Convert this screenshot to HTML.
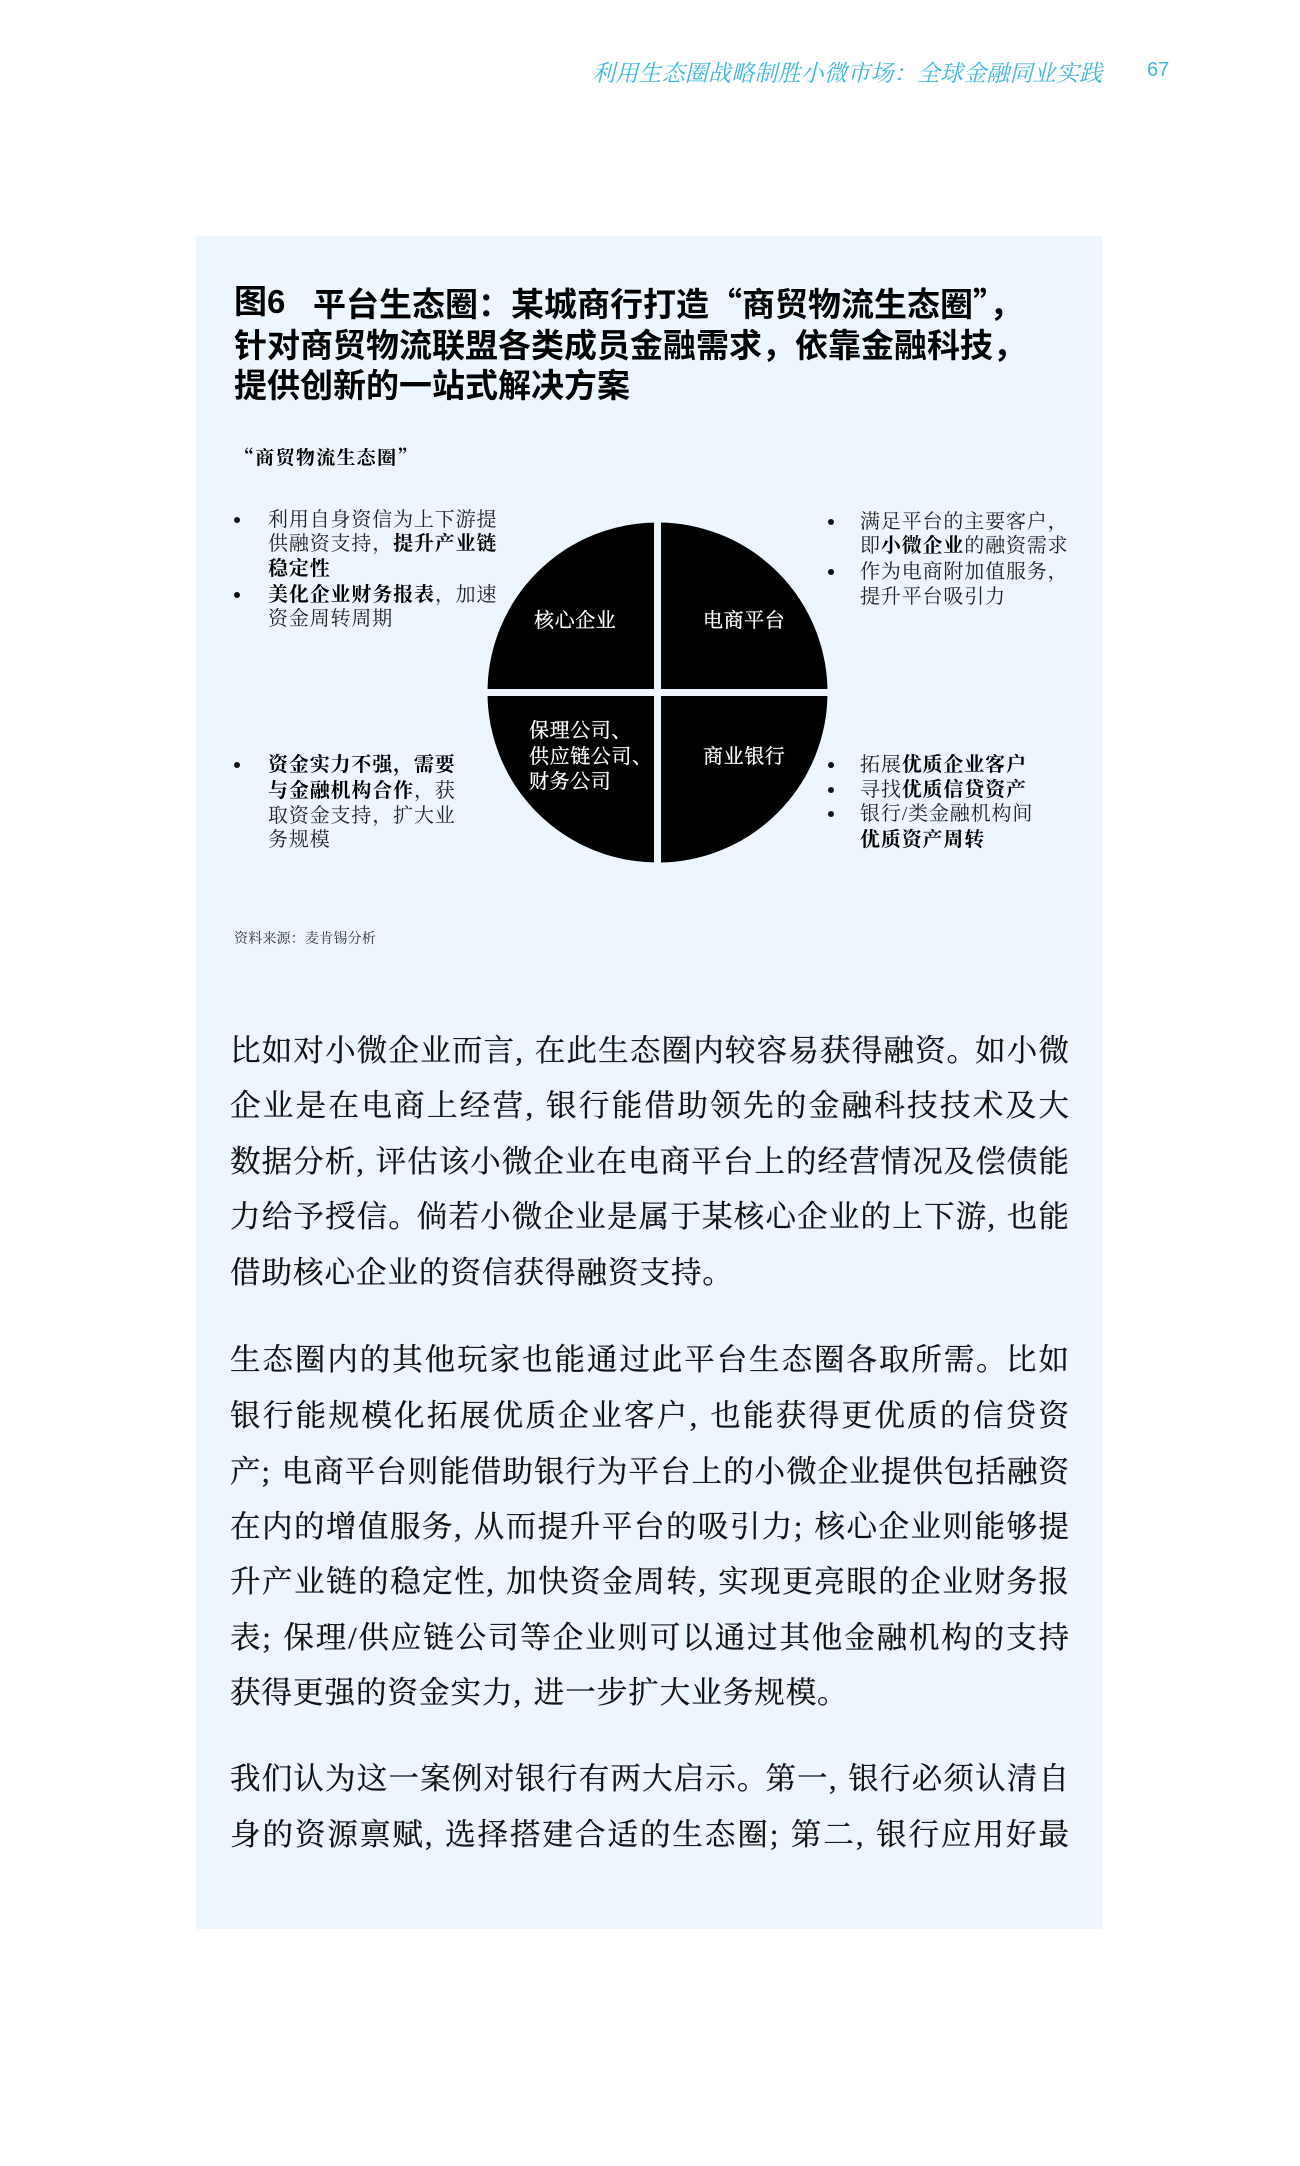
<!DOCTYPE html>
<html lang="zh-CN">
<head>
<meta charset="utf-8">
<title>平台生态圈</title>
<style>
html,body{margin:0;padding:0;background:#fff;}
#page{position:relative;width:1300px;height:2166px;overflow:hidden;background:#fff;font-family:"Liberation Serif","Noto Serif CJK SC",serif;color:#000;}
#page div{position:absolute;white-space:nowrap;}
#panel{left:196px;top:236px;width:906px;height:1693px;background:#edf5fd;}
.hd{font-family:"Noto Sans CJK SC","Liberation Sans",sans-serif;font-weight:700;font-size:33px;line-height:40px;height:40px;left:234px;color:#000;}
.j{text-align:justify;text-align-last:justify;}
.bl{left:230px;width:839px;height:44px;font-size:30.5px;line-height:44px;font-feature-settings:"palt";color:#111;word-spacing:3px;-webkit-text-stroke:.25px #111;}
.bl.last{letter-spacing:1px;text-align:left;text-align-last:left;width:auto;}
.s{font-size:20px;line-height:26px;height:26px;letter-spacing:.85px;color:#222;}
.s b{color:#000;font-weight:700;}
.lx{left:268px;}
.rx{left:860px;}
.dot{width:6px;height:6px;border-radius:50%;background:#111;}
.c{font-size:20px;line-height:26px;height:26px;letter-spacing:.6px;color:#fff;-webkit-text-stroke:.3px #fff;}
</style>
</head>
<body>
<div id="page">
  <div style="left:592px;top:56px;height:32px;font-family:'Noto Serif CJK SC',serif;font-size:23px;line-height:32px;font-style:italic;color:#3fb5e0;letter-spacing:.2px;">利用生态圈战略制胜小微市场&#xFF1A;全球金融同业实践</div>
  <div style="left:1147px;top:57px;height:26px;font-family:'Liberation Sans',sans-serif;font-size:20px;line-height:26px;color:#3fb5e0;">67</div>

  <div id="panel"></div>

  <div class="hd" style="top:282px;font-family:'Liberation Sans','Noto Sans CJK SC',sans-serif;">图6</div>
  <div class="hd" style="top:282px;left:313px;">平台生态圈&#xFF1A;某城商行打造“商贸物流生态圈”&#xFF0C;</div>
  <div class="hd" style="top:323px;">针对商贸物流联盟各类成员金融需求&#xFF0C;依靠金融科技&#xFF0C;</div>
  <div class="hd" style="top:363px;">提供创新的一站式解决方案</div>

  <div style="left:235px;top:444px;height:26px;font-family:'Noto Serif CJK SC',serif;font-size:19px;line-height:26px;letter-spacing:1.3px;font-weight:700;">“商贸物流生态圈”</div>

  <svg id="quad-chart" width="1300" height="2166" style="position:absolute;left:0;top:0;"></svg>

  <div class="c" style="left:534px;top:608px;">核心企业</div>
  <div class="c" style="left:703px;top:608px;">电商平台</div>
  <div class="c" style="left:529px;top:718px;">保理公司、</div>
  <div class="c" style="left:529px;top:744px;">供应链公司、</div>
  <div class="c" style="left:529px;top:769px;">财务公司</div>
  <div class="c" style="left:703px;top:744px;">商业银行</div>

  <div class="dot" style="left:234px;top:517px;"></div>
  <div class="s lx" style="top:507px;">利用自身资信为上下游提</div>
  <div class="s lx" style="top:531px;">供融资支持&#xFF0C;<b>提升产业链</b></div>
  <div class="s lx" style="top:556px;"><b>稳定性</b></div>
  <div class="dot" style="left:234px;top:592px;"></div>
  <div class="s lx" style="top:582px;"><b>美化企业财务报表</b>&#xFF0C;加速</div>
  <div class="s lx" style="top:606px;">资金周转周期</div>

  <div class="dot" style="left:828px;top:519px;"></div>
  <div class="s rx" style="top:509px;">满足平台的主要客户&#xFF0C;</div>
  <div class="s rx" style="top:533px;">即<b>小微企业</b>的融资需求</div>
  <div class="dot" style="left:828px;top:569px;"></div>
  <div class="s rx" style="top:559px;">作为电商附加值服务&#xFF0C;</div>
  <div class="s rx" style="top:584px;">提升平台吸引力</div>

  <div class="dot" style="left:234px;top:762px;"></div>
  <div class="s lx" style="top:752px;"><b>资金实力不强&#xFF0C;需要</b></div>
  <div class="s lx" style="top:778px;"><b>与金融机构合作</b>&#xFF0C;获</div>
  <div class="s lx" style="top:803px;">取资金支持&#xFF0C;扩大业</div>
  <div class="s lx" style="top:827px;">务规模</div>

  <div class="dot" style="left:828px;top:762px;"></div>
  <div class="s rx" style="top:752px;">拓展<b>优质企业客户</b></div>
  <div class="dot" style="left:828px;top:787px;"></div>
  <div class="s rx" style="top:777px;">寻找<b>优质信贷资产</b></div>
  <div class="dot" style="left:828px;top:811px;"></div>
  <div class="s rx" style="top:801px;">银行/类金融机构间</div>
  <div class="s rx" style="top:827px;"><b>优质资产周转</b></div>

  <div style="left:234px;top:928px;height:20px;font-family:'Noto Serif CJK SC',serif;font-size:14px;line-height:20px;letter-spacing:.2px;color:#333;">资料来源&#xFF1A;麦肯锡分析</div>

  <div class="bl j" style="top:1029px;">比如对小微企业而言, 在此生态圈内较容易获得融资。 如小微</div>
  <div class="bl j" style="top:1084px;">企业是在电商上经营, 银行能借助领先的金融科技技术及大</div>
  <div class="bl j" style="top:1140px;">数据分析, 评估该小微企业在电商平台上的经营情况及偿债能</div>
  <div class="bl j" style="top:1195px;">力给予授信。 倘若小微企业是属于某核心企业的上下游, 也能</div>
  <div class="bl last" style="top:1251px;">借助核心企业的资信获得融资支持。</div>

  <div class="bl j" style="top:1338px;">生态圈内的其他玩家也能通过此平台生态圈各取所需。 比如</div>
  <div class="bl j" style="top:1394px;">银行能规模化拓展优质企业客户, 也能获得更优质的信贷资</div>
  <div class="bl j" style="top:1450px;">产; 电商平台则能借助银行为平台上的小微企业提供包括融资</div>
  <div class="bl j" style="top:1505px;">在内的增值服务, 从而提升平台的吸引力; 核心企业则能够提</div>
  <div class="bl j" style="top:1560px;">升产业链的稳定性, 加快资金周转, 实现更亮眼的企业财务报</div>
  <div class="bl j" style="top:1616px;">表; 保理/供应链公司等企业则可以通过其他金融机构的支持</div>
  <div class="bl last" style="top:1671px;">获得更强的资金实力, 进一步扩大业务规模。</div>

  <div class="bl j" style="top:1757px;">我们认为这一案例对银行有两大启示。 第一, 银行必须认清自</div>
  <div class="bl j" style="top:1813px;">身的资源禀赋, 选择搭建合适的生态圈; 第二, 银行应用好最</div>
</div>
<script>
const quadrantNames = ['quadrant-ecommerce-platform', 'quadrant-commercial-bank', 'quadrant-factoring', 'quadrant-core-enterprise'];
const quadrantShares = [25, 25, 25, 25];

const svgNS = 'http://www.w3.org/2000/svg';
const quadChart = document.getElementById('quad-chart');
const cx = 657.5, cy = 692.5, outerR = 173.5, gapWidth = 7, gapColor = '#edf5fd';
const total = quadrantShares.reduce(function (a, b) { return a + b; }, 0);
function angleOf(share) { return share / total * Math.PI * 2; }
function pointAt(a) { return [cx + outerR * Math.sin(a), cy - outerR * Math.cos(a)]; }
let start = 0;
quadrantShares.forEach(function (share, i) {
  const end = start + angleOf(share);
  const p0 = pointAt(start), p1 = pointAt(end);
  const large = end - start > Math.PI ? 1 : 0;
  const slice = document.createElementNS(svgNS, 'path');
  slice.setAttribute('d', 'M' + cx + ' ' + cy + 'L' + p0[0] + ' ' + p0[1] + 'A' + outerR + ' ' + outerR + ' 0 ' + large + ' 1 ' + p1[0] + ' ' + p1[1] + 'Z');
  slice.setAttribute('fill', '#000');
  slice.setAttribute('stroke', gapColor);
  slice.setAttribute('stroke-width', gapWidth);
  
  
  quadChart.appendChild(slice);
  start = end;
});
</script>
</body>
</html>
